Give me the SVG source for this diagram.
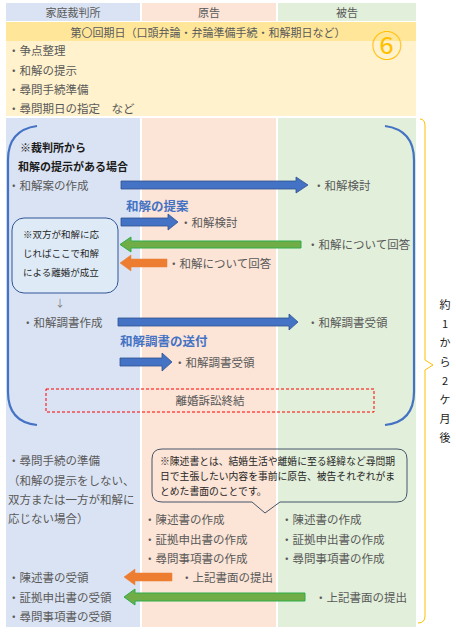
<svg xmlns="http://www.w3.org/2000/svg" width="456" height="636" viewBox="0 0 456 636">
<style>
text{font-family:"Noto Sans CJK JP","Noto Sans",sans-serif;font-size:11.5px;fill:#595959;dominant-baseline:central}
.b{font-weight:bold;fill:#1a1a1a;font-size:11px}
.bl{font-weight:bold;fill:#4472C4;font-size:12.5px}
.s{font-size:9.5px;fill:#262626}
.s2{font-size:9.8px;fill:#262626}
.blue{fill:#4472C4;stroke:#2F528F;stroke-width:0.8}
.green{fill:#70AD47;stroke:#2EAD4A;stroke-width:1}
.orange{fill:#ED7D31;stroke:#ED7D31;stroke-width:0.5}
.m{text-anchor:middle}
</style>
<rect width="456" height="636" fill="#FFFFFF"/>
<g id="columns">
<rect x="6" y="3" width="134" height="18" fill="#DAE3F3"/>
<rect x="142" y="3" width="134" height="18" fill="#FCE4D6"/>
<rect x="278" y="3" width="138" height="18" fill="#E2EFDA"/>
<rect x="6" y="22" width="410" height="19" fill="#FFE699"/>
<rect x="6" y="41" width="410" height="75" fill="#FFF2CC"/>
<rect x="6" y="118" width="134" height="509" fill="#DAE3F3"/>
<rect x="142" y="118" width="134" height="509" fill="#FCE4D6"/>
<rect x="278" y="118" width="138" height="509" fill="#E2EFDA"/>
</g>
<g id="headers">
<text class="m" x="73" y="12" style="font-size:11px">家庭裁判所</text>
<text class="m" x="209" y="12" style="font-size:11px">原告</text>
<text class="m" x="347" y="12" style="font-size:11px">被告</text>
</g>
<g id="session">
<text class="m" x="208" y="32" style="font-size:11px">第〇回期日（口頭弁論・弁論準備手続・和解期日など）</text>
<text x="8" y="50">・争点整理</text>
<text x="8" y="70">・和解の提示</text>
<text x="8" y="89">・尋問手続準備</text>
<text x="8" y="108">・尋問期日の指定　など</text>
<text class="m" x="387" y="43" style="font-size:31px;fill:#FFC000">⑥</text>
</g>
<g id="brackets" fill="none">
<path d="M37,126 Q8,130 8,160 L8,392 Q8,422 37,425" stroke="#4472C4" stroke-width="2.2"/>
<path d="M385,126 Q414,130 414,160 L414,392 Q414,422 385,425" stroke="#4472C4" stroke-width="2.2"/>
<path d="M420,119 Q425,119 425,126 L425,360 L433,365 L425,370 L425,616 Q425,623 418,623" stroke="#FFC000" stroke-width="1"/>
</g>
<g id="duration">
<text class="m" x="445" y="304" style="fill:#1a1a1a;font-size:11px">約</text>
<text class="m" x="445" y="323" style="fill:#1a1a1a;font-size:11px">1</text>
<text class="m" x="445" y="342" style="fill:#1a1a1a;font-size:11px">か</text>
<text class="m" x="445" y="361" style="fill:#1a1a1a;font-size:11px">ら</text>
<text class="m" x="445" y="380" style="fill:#1a1a1a;font-size:11px">2</text>
<text class="m" x="445" y="399" style="fill:#1a1a1a;font-size:11px">ケ</text>
<text class="m" x="445" y="418" style="fill:#1a1a1a;font-size:11px">月</text>
<text class="m" x="445" y="437" style="fill:#1a1a1a;font-size:11px">後</text>
</g>
<g id="settlement">
<text class="b" x="20" y="147">※裁判所から</text>
<text class="b" x="18" y="166">和解の提示がある場合</text>
<text x="8" y="185">・和解案の作成</text>
<text x="313" y="185">・和解検討</text>
<text class="bl" x="126" y="205">和解の提案</text>
<text x="180" y="222">・和解検討</text>
<text x="307" y="244">・和解について回答</text>
<text x="168" y="263">・和解について回答</text>
</g>
<g id="note1">
<rect x="12" y="218" width="106" height="75" rx="12" fill="#DEEBF7" stroke="#2F5597" stroke-width="1"/>
<text class="s" x="23" y="234"><tspan style="font-weight:bold">※</tspan>双方が和解に応</text>
<text class="s" x="23" y="253">じればここで和解</text>
<text class="s" x="23" y="272">による離婚が成立</text>
</g>
<g id="record">
<text class="m" x="60" y="302" style="font-size:10px;fill:#7f7f7f">↓</text>
<text x="22" y="322">・和解調書作成</text>
<text x="307" y="322">・和解調書受領</text>
<text class="bl" x="120" y="340">和解調書の送付</text>
<text x="174" y="362">・和解調書受領</text>
</g>
<g id="end">
<rect x="46" y="389" width="328" height="23" fill="none" stroke="#FF0000" stroke-width="1" stroke-dasharray="3,2"/>
<text class="m" x="210" y="400">離婚訴訟終結</text>
</g>
<g id="hearing">
<text x="8" y="460">・尋問手続の準備</text>
<text x="8" y="480">（和解の提示をしない、</text>
<text x="8" y="499">双方または一方が和解に</text>
<text x="8" y="518">応じない場合）</text>
</g>
<g id="note2">
<path d="M162,449 L397,449 Q407,449 407,459 L407,492 Q407,502 397,502 L280,502 L265,513 L252,502 L162,502 Q152,502 152,492 L152,459 Q152,449 162,449 Z" fill="none" stroke="#44546A" stroke-width="1"/>
<text class="s2" x="160" y="461">※陳述書とは、結婚生活や離婚に至る経緯など尋問期</text>
<text class="s2" x="160" y="476">日で主張したい内容を事前に原告、被告それぞれがま</text>
<text class="s2" x="160" y="491">とめた書面のことです。</text>
</g>
<g id="documents">
<text x="144" y="519">・陳述書の作成</text>
<text x="144" y="539">・証拠申出書の作成</text>
<text x="144" y="558">・尋問事項書の作成</text>
<text x="281" y="519">・陳述書の作成</text>
<text x="281" y="539">・証拠申出書の作成</text>
<text x="281" y="558">・尋問事項書の作成</text>
<text x="8" y="577">・陳述書の受領</text>
<text x="8" y="597">・証拠申出書の受領</text>
<text x="8" y="616">・尋問事項書の受領</text>
<text x="181" y="577">・上記書面の提出</text>
<text x="315" y="597">・上記書面の提出</text>
</g>
<g id="connectors">
<polygon class="blue" points="121,181 296,181 296,177 308,185 296,193 296,189 121,189"/>
<polygon class="blue" points="121,218 168,218 168,214 178,222 168,230 168,226 121,226"/>
<polygon class="green" points="301,241 131,241 131,237 120,244.5 131,252 131,248 301,248"/>
<polygon class="orange" points="167,259 131,259 131,255 120,263 131,271 131,267 167,267"/>
<polygon class="blue" points="118,318 289,318 289,314 298,322 289,330 289,326 118,326"/>
<polygon class="blue" points="120,358 162,358 162,353 172,362 162,371 162,366 120,366"/>
<polygon class="orange" points="172,573 135,573 135,569 124,577 135,585 135,581 172,581"/>
<polygon class="green" points="305,593 135,593 135,589 124,597 135,605 135,601 305,601"/>
</g>
</svg>
